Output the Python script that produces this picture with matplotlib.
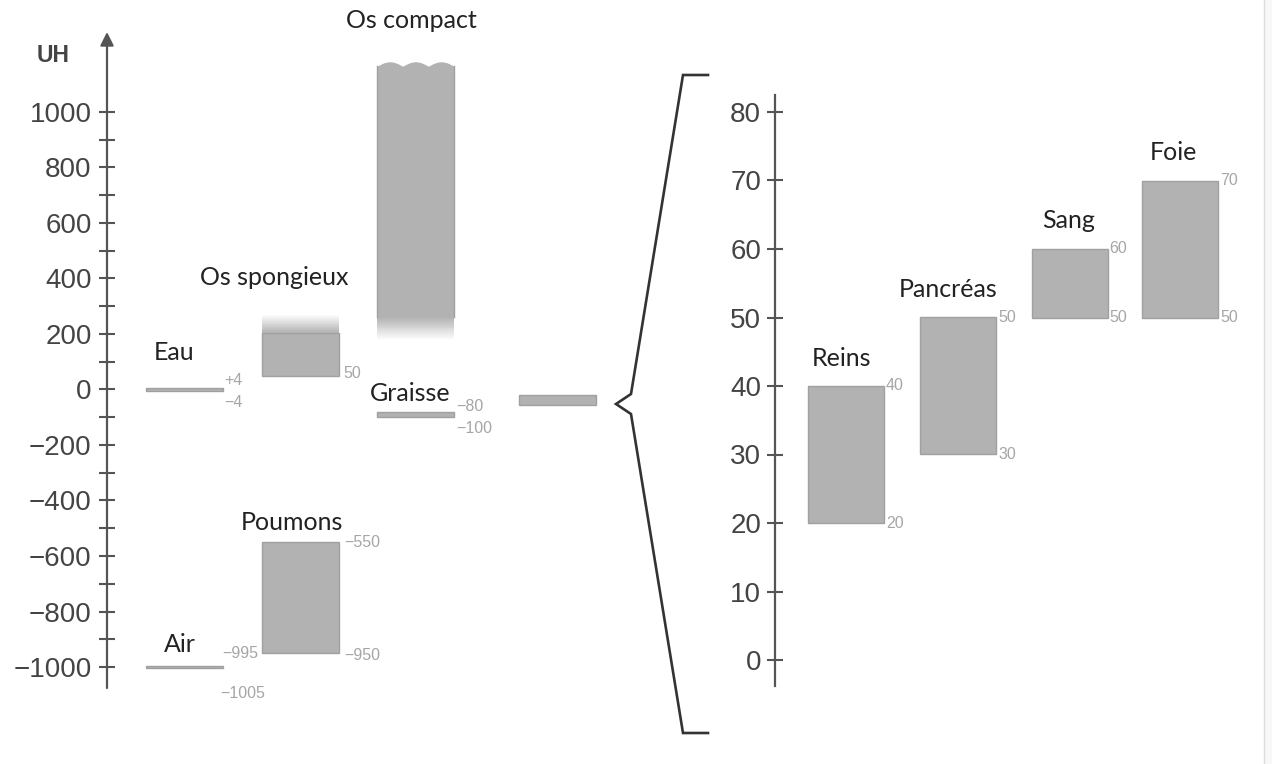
import numpy as np
import matplotlib
matplotlib.use('Agg')
import matplotlib.pyplot as plt
from matplotlib.lines import Line2D
from matplotlib.patches import Rectangle

# Densités en unités Hounsfield (vue d'ensemble)
left_labels = ['Eau', 'Os spongieux', 'Os compact', 'Graisse', 'Poumons', 'Air']
left_low = [-4, 50, 260, -100, -950, -1005]
left_high = [4, 205, 1165, -80, -550, -995]
left_col = [0, 1, 2, 2, 1, 0]

# tissus mous, détaillés à droite
soft_low, soft_high = -55, -20

right_labels = ['Reins', 'Pancréas', 'Sang', 'Foie']
right_low = [20, 30, 50, 50]
right_high = [40, 50, 60, 70]

left_ticks = np.arange(-1000, 1001, 200)
left_minor = np.arange(-900, 901, 200)
right_ticks = np.arange(0, 81, 10)

# mise en page (pixels)
W, H = 1272, 764
bar_c = '#b2b2b2'
edge_c = '#a0a0a0'
axis_c = '#555555'
tick_txt = '#444444'
val_c = '#a6a6a6'
lab_font = 'Lato'
num_font = 'Liberation Sans'
PT = 0.72  # points par pixel

fig = plt.figure(figsize=(W / 100, H / 100), dpi=100)
fig.patch.set_facecolor('white')
fig.add_artist(Rectangle((1264 / W, 0), 8 / W, 1, transform=fig.transFigure,
                         facecolor='#f8f8f8', edgecolor='none'))
fig.add_artist(Line2D([1264 / W, 1264 / W], [0, 1], transform=fig.transFigure,
                      color='#dddddd', lw=1))


def px_axes(x0, x1, ytop, ybot):
    ax = fig.add_axes([x0 / W, 1 - ybot / H, (x1 - x0) / W, (ybot - ytop) / H])
    ax.set_xlim(x0, x1)
    ax.patch.set_alpha(0)
    for s in ['top', 'right', 'bottom']:
        ax.spines[s].set_visible(False)
    ax.set_xticks([])
    return ax


def fmt(v):
    return str(v).replace('-', '\u2212')


def fade(ax, x, w, y_start, y_end, n=24):
    for k in range(n):
        y0 = y_start + (y_end - y_start) * k / n
        y1 = y_start + (y_end - y_start) * (k + 1) / n
        ax.fill_between([x - w / 2, x + w / 2], y0, y1, color=bar_c,
                        alpha=1 - (k + 0.5) / n, lw=0)


def value_label(ax, txt, x, y, dx, dy, ha='left'):
    ax.annotate(txt, xy=(x, y), xytext=(dx * PT, dy * PT), textcoords='offset points',
                ha=ha, va='center', fontsize=11.5, color=val_c, family=num_font,
                annotation_clip=False)


def cat_label(ax, txt, x, y, dx, dy):
    ax.annotate(txt, xy=(x, y), xytext=(dx * PT, dy * PT), textcoords='offset points',
                ha='center', va='center', fontsize=18, color='#222222', family=lab_font,
                annotation_clip=False)


# ---- axe de gauche
zero_l, scale_l = 389.5, 0.2775
axL = px_axes(107, 640, 32, 688)
axL.set_ylim((zero_l - 688) / scale_l, (zero_l - 32) / scale_l)
axL.spines['left'].set_visible(False)
axL.annotate('', xy=(0, 1), xytext=(0, 0), xycoords='axes fraction',
             arrowprops=dict(arrowstyle='-|>', color=axis_c, lw=1.6,
                             mutation_scale=20, shrinkA=0, shrinkB=0))
axL.set_yticks(left_ticks)
axL.set_yticks(left_minor, minor=True)
axL.set_yticklabels([fmt(t) for t in left_ticks])
axL.tick_params(axis='y', which='both', direction='inout', length=12, width=1.5,
                color=axis_c, labelsize=20, labelcolor=tick_txt, pad=5)
for t in axL.get_yticklabels():
    t.set_family(num_font)
fig.text(37 / W, 1 - 55 / H, 'UH', fontsize=16.5, fontweight='bold', color=tick_txt,
         family=num_font, ha='left', va='center')

col_x = [184, 300, 415.5, 557.5]
bw = 77
for i, lab in enumerate(left_labels):
    x = col_x[left_col[i]]
    if lab == 'Os compact':
        xs = np.linspace(x - bw / 2, x + bw / 2, 120)
        wave = left_high[i] + 16 * np.abs(np.sin(3 * np.pi * (xs - xs[0]) / bw))
        axL.fill_between(xs, left_low[i], wave, color=bar_c, lw=0)
        axL.plot([xs[0], xs[0]], [left_low[i], left_high[i]], color=edge_c, lw=1)
        axL.plot([xs[-1], xs[-1]], [left_low[i], left_high[i]], color=edge_c, lw=1)
        fade(axL, x, bw, left_low[i], left_low[i] - 80)
        continue
    axL.bar(x, left_high[i] - left_low[i], bottom=left_low[i], width=bw,
            color=bar_c, edgecolor=edge_c, lw=1)
    if lab == 'Os spongieux':
        fade(axL, x, bw, left_high[i], left_high[i] + 65)

axL.bar(col_x[3], soft_high - soft_low, bottom=soft_low, width=bw,
        color=bar_c, edgecolor=edge_c, lw=1)

# étiquettes des tissus
lab_off = [(-10, 36), (-26, 55), (-4, 41), (-5, 18), (-8, 20), (-4, 21)]
for i, lab in enumerate(left_labels):
    x = col_x[left_col[i]]
    top = left_high[i]
    if lab == 'Os compact':
        top = left_high[i] + 16
    cat_label(axL, lab, x, top, *lab_off[i])

# valeurs
e = bw / 2
value_label(axL, '+4', col_x[0] + e, left_high[0], 2, 8)
value_label(axL, fmt(left_low[0]), col_x[0] + e, left_low[0], 2, -12)
value_label(axL, fmt(left_low[1]), col_x[1] + e, left_low[1], 5, 2)
value_label(axL, fmt(left_high[3]), col_x[2] + e, left_high[3], 2, 5)
value_label(axL, fmt(left_low[3]), col_x[2] + e, left_low[3], 2, -11)
value_label(axL, fmt(left_high[4]), col_x[1] + e, left_high[4], 6, 0)
value_label(axL, fmt(left_low[4]), col_x[1] + e, left_low[4], 6, -2)
value_label(axL, fmt(left_high[5]), col_x[0] + e, left_high[5], 0, 12)
value_label(axL, fmt(left_low[5]), col_x[0] + e, left_low[5], -2, -25)

# ---- accolade
bx = [708, 683, 631, 616, 631, 683, 708]
by = [75, 75, 394, 404, 414, 733, 733]
fig.add_artist(Line2D([v / W for v in bx], [1 - v / H for v in by],
                      transform=fig.transFigure, color='#333333', lw=1.9,
                      solid_joinstyle='miter'))

# ---- axe de droite
zero_r, scale_r = 660, 6.85
axR = px_axes(775, 1262, 95, 686)
axR.set_ylim((zero_r - 686) / scale_r, (zero_r - 95) / scale_r)
axR.spines['left'].set_color(axis_c)
axR.spines['left'].set_linewidth(1.6)
axR.set_yticks(right_ticks)
axR.tick_params(axis='y', direction='inout', length=12, width=1.5, color=axis_c,
                labelsize=20, labelcolor=tick_txt, pad=4)
for t in axR.get_yticklabels():
    t.set_family(num_font)

rcol_x = [846, 958, 1069.5, 1180]
rbw = 76
for i, lab in enumerate(right_labels):
    x = rcol_x[i]
    axR.bar(x, right_high[i] - right_low[i], bottom=right_low[i], width=rbw,
            color=bar_c, edgecolor=edge_c, lw=1)
    cat_label(axR, lab, x, right_high[i], [-5, -10, -1, -7][i], 28)
    value_label(axR, fmt(right_high[i]), x + rbw / 2, right_high[i], 2, 0)
    value_label(axR, fmt(right_low[i]), x + rbw / 2, right_low[i], 2, 0)

fig.savefig('out.png', dpi=100)
